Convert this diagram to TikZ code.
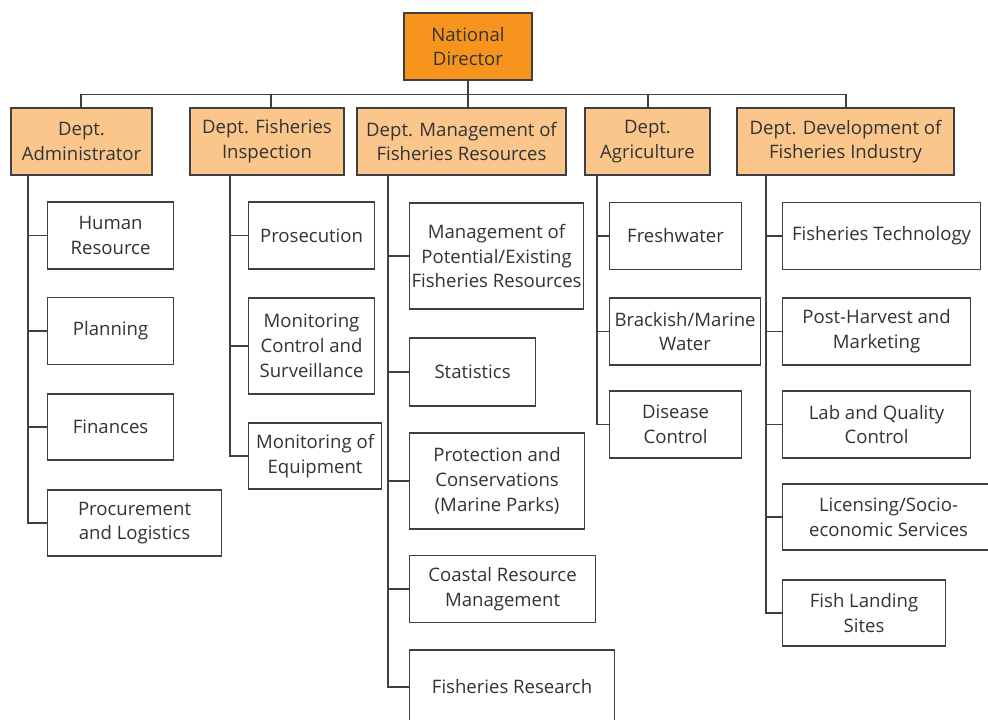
\documentclass[tikz,border=0pt]{standalone}
\usepackage{fontspec}
\setmainfont{Open Sans}
\usetikzlibrary{positioning}
\definecolor{DirOrange}{HTML}{F7941D}
\definecolor{DeptOrange}{HTML}{FBC68C}
\definecolor{LineGray}{HTML}{404040}
\definecolor{TextGray}{HTML}{333333}

\begin{document}
\begin{tikzpicture}[x=0.025cm, y=-0.025cm,
    wh/.style 2 args={minimum width=#1*0.025cm, minimum height=#2*0.025cm},
    unit/.style={draw=LineGray, line width=0.8pt, fill=white, text=TextGray,
        align=center, inner sep=0pt, anchor=west,
        font=\fontsize{13.2}{17.6}\selectfont},
    dept/.style={unit, fill=DeptOrange, anchor=center},
    director/.style={dept, fill=DirOrange},
    link/.style={draw=LineGray, line width=0.8pt}]
    \useasboundingbox (0,0) rectangle (988,719);
    \clip (0,0) rectangle (988,719);

    % top level
    \node[director, wh={128}{67}] (dir) at (468,46.5) {National\\Director};
    \node[dept, wh={141}{67}] (admin) at (81.5,141.5) {Dept.\\Administrator};
    \node[dept, wh={154}{67}] (insp) at (267,141.5) {Dept. Fisheries\\Inspection};
    \node[dept, wh={209}{67}] (mgmt) at (461.5,141.5) {Dept. Management of\\Fisheries Resources};
    \node[dept, wh={125}{67}] (agri) at (647.5,141.5) {Dept.\\Agriculture};
    \node[dept, wh={217}{67}] (devt) at (845.5,141.5) {Dept. Development of\\Fisheries Industry};

    \draw[link] (dir) -- (468,94.5);
    \draw[link] (81,0 |- admin.north) -- (81,94.5) -- (846,94.5) -- (846,0 |- devt.north);
    \foreach \n/\x in {insp/271, mgmt/468, agri/648}
        \draw[link] (\x,94.5) -- (\x,0 |- \n.north);

    % administrator
    \node[unit, wh={126}{67}] (hr) at (47,235.5) {Human\\Resource};
    \node[unit, wh={126}{67}] (plan) at (47,331) {Planning};
    \node[unit, wh={126}{66}] (fin) at (47,427) {Finances};
    \node[unit, wh={174}{66}] (proc) at (47,523) {Procurement\\and Logistics};
    \draw[link] (28,0 |- admin.south) |- (proc.west);
    \foreach \n in {hr, plan, fin}
        \draw[link] (28,0 |- \n.west) -- (\n.west);

    % inspection
    \node[unit, wh={126}{67}] (pros) at (248,235.5) {Prosecution};
    \node[unit, wh={126}{96}] (mcs) at (248,346) {Monitoring\\Control and\\Surveillance};
    \node[unit, wh={133}{66}] (equip) at (248,456) {Monitoring of\\Equipment};
    \draw[link] (230,0 |- insp.south) |- (equip.west);
    \foreach \n in {pros, mcs}
        \draw[link] (230,0 |- \n.west) -- (\n.west);

    % management of resources
    \node[unit, wh={174}{106}] (pot) at (409,256) {Management of\\Potential/Existing\\Fisheries Resources};
    \node[unit, wh={126}{68}] (stat) at (409,372) {Statistics};
    \node[unit, wh={175}{96}] (prot) at (409,481) {Protection and\\Conservations\\(Marine Parks)};
    \node[unit, wh={186}{67}] (coast) at (409,589) {Coastal Resource\\Management};
    \node[unit, wh={205}{74}] (res) at (409,687) {Fisheries Research};
    \draw[link] (388,0 |- mgmt.south) |- (res.west);
    \foreach \n in {pot, stat, prot, coast}
        \draw[link] (388,0 |- \n.west) -- (\n.west);

    % agriculture
    \node[unit, wh={132}{67}] (fresh) at (609,236) {Freshwater};
    \node[unit, wh={151}{67}] (brack) at (609,331.5) {Brackish/Marine\\Water};
    \node[unit, wh={132}{67}] (disease) at (609,424.5) {Disease\\Control};
    \draw[link] (597,0 |- agri.south) |- (disease.west);
    \foreach \n in {fresh, brack}
        \draw[link] (597,0 |- \n.west) -- (\n.west);

    % development of industry
    \node[unit, wh={198}{67}] (tech) at (782,236) {Fisheries Technology};
    \node[unit, wh={188}{67}] (post) at (782,331.5) {Post-Harvest and\\Marketing};
    \node[unit, wh={188}{67}] (lab) at (782,424.5) {Lab and Quality\\Control};
    \node[unit, wh={212}{66}] (lic) at (782,517) {Licensing/Socio-\\economic Services};
    \node[unit, wh={163}{66}] (land) at (782,613) {Fish Landing\\Sites};
    \draw[link] (766,0 |- devt.south) |- (land.west);
    \foreach \n in {tech, post, lab, lic}
        \draw[link] (766,0 |- \n.west) -- (\n.west);
\end{tikzpicture}
\end{document}
